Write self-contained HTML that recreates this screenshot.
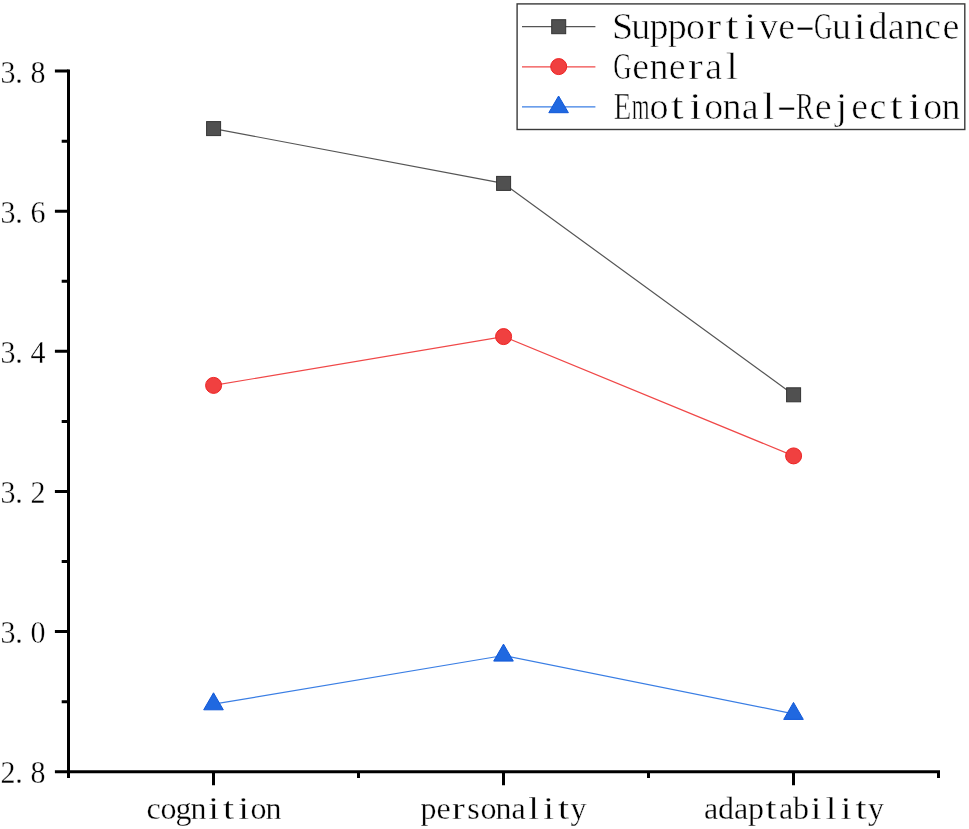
<!DOCTYPE html>
<html lang="en">
<head>
<meta charset="utf-8">
<title>Line chart</title>
<style>
html,body{margin:0;padding:0;background:#fff;}
body{width:969px;height:829px;overflow:hidden;}
svg{display:block;}
text{font-family:"Liberation Serif","Noto Serif CJK SC",serif;fill:#000;text-anchor:middle;}
.tick{font-size:30px;stroke:#fff;stroke-width:0.3px;}
.leg{font-size:38px;stroke:#fff;stroke-width:0.6px;}
.ax{stroke:#000;stroke-width:3;fill:none;stroke-linecap:butt;}
</style>
</head>
<body>
<svg width="969" height="829" viewBox="0 0 969 829">
<title>Line chart of three groups across cognition, personality and adaptability</title>
<desc>Series: Supportive-Guidance, General, Emotional-Rejection. Categories: cognition, personality, adaptability. Y axis from 2.8 to 3.8.</desc>
<rect x="0" y="0" width="969" height="829" fill="#ffffff"/>

<g id="series">
<polyline points="213.5,128.6 503.5,183.4 793.5,394.8" fill="none" stroke="#555555" stroke-width="1.2"/>
<polyline points="213.5,385.4 503.5,336.6 793.5,455.9" fill="none" stroke="#f04848" stroke-width="1.2"/>
<polyline points="213.5,704.2 503.5,655.5 793.5,713.8" fill="none" stroke="#3a7ee4" stroke-width="1.2"/>
<rect x="206.6" y="121.6" width="14" height="14" fill="#505050" stroke="#333333" stroke-width="1"/>
<rect x="496.6" y="176.4" width="14" height="14" fill="#505050" stroke="#333333" stroke-width="1"/>
<rect x="786.6" y="387.8" width="14" height="14" fill="#505050" stroke="#333333" stroke-width="1"/>
<circle cx="213.6" cy="385.4" r="8" fill="#f04040" stroke="#ee2222" stroke-width="1"/>
<circle cx="503.6" cy="336.6" r="8" fill="#f04040" stroke="#ee2222" stroke-width="1"/>
<circle cx="793.6" cy="455.9" r="8" fill="#f04040" stroke="#ee2222" stroke-width="1"/>
<polygon points="213.5,692.8000000000001 223.3,709.8000000000001 203.7,709.8000000000001" fill="#2068e0" stroke="#1058d8" stroke-width="1" stroke-linejoin="miter"/>
<polygon points="503.5,644.1 513.3,661.1 493.7,661.1" fill="#2068e0" stroke="#1058d8" stroke-width="1" stroke-linejoin="miter"/>
<polygon points="793.5,702.4 803.3,719.4 783.7,719.4" fill="#2068e0" stroke="#1058d8" stroke-width="1" stroke-linejoin="miter"/>
</g>
<g id="axes" class="ax">
<path d="M68.5,69.6 V773.2"/>
<path d="M67.0,771.7 H940.0"/>
<path d="M54.9,71.10 H68.5 M61.7,141.16 H68.5 M54.9,211.22 H68.5 M61.7,281.28 H68.5 M54.9,351.34 H68.5 M61.7,421.40 H68.5 M54.9,491.46 H68.5 M61.7,561.52 H68.5 M54.9,631.58 H68.5 M61.7,701.64 H68.5 M54.9,771.70 H68.5"/>
<path d="M68.5,771.7 V778.0 M213.5,771.7 V785.2 M358.5,771.7 V778.0 M503.5,771.7 V785.2 M648.5,771.7 V778.0 M793.5,771.7 V785.2 M938.5,771.7 V778.0"/>
</g>
<g id="ylabels" class="tick" transform="scale(1,1.05)">
<text x="8 19 38" y="78.95">3.8</text>
<text x="8 19 38" y="212.40">3.6</text>
<text x="8 19 38" y="345.85">3.4</text>
<text x="8 19 38" y="479.30">3.2</text>
<text x="8 19 38" y="612.74">3.0</text>
<text x="8 19 38" y="746.19">2.8</text>
</g>
<g id="xlabels" class="tick" style="font-size:32px">
<text x="153.5 168.5 183.5 198.5 213.5 228.5 243.5 258.5 273.5" y="819.3" aria-label="cognition">cogn<tspan textLength="10.7" lengthAdjust="spacingAndGlyphs">i</tspan><tspan textLength="11.1" lengthAdjust="spacingAndGlyphs">t</tspan><tspan textLength="10.7" lengthAdjust="spacingAndGlyphs">i</tspan>on</text>
<text x="428.5 443.5 458.5 473.5 488.5 503.5 518.5 533.5 548.5 563.5 578.5" y="819.3" aria-label="personality">pe<tspan textLength="12.8" lengthAdjust="spacingAndGlyphs">r</tspan>sona<tspan textLength="10.7" lengthAdjust="spacingAndGlyphs">l</tspan><tspan textLength="10.7" lengthAdjust="spacingAndGlyphs">i</tspan><tspan textLength="11.1" lengthAdjust="spacingAndGlyphs">t</tspan>y</text>
<text x="711 726 741 756 771 786 801 816 831 846 861 876" y="819.3" aria-label="adaptability">adap<tspan textLength="11.1" lengthAdjust="spacingAndGlyphs">t</tspan>ab<tspan textLength="10.7" lengthAdjust="spacingAndGlyphs">i</tspan><tspan textLength="10.7" lengthAdjust="spacingAndGlyphs">l</tspan><tspan textLength="10.7" lengthAdjust="spacingAndGlyphs">i</tspan><tspan textLength="11.1" lengthAdjust="spacingAndGlyphs">t</tspan>y</text>
</g>
<g id="legend">
<rect x="517.1" y="3.9" width="447.7" height="125.6" fill="#ffffff" stroke="#3a3a3a" stroke-width="1.4"/>
<line x1="522" y1="26.7" x2="595.4" y2="26.7" stroke="#555555" stroke-width="1.2"/>
<line x1="522" y1="66.8" x2="595.4" y2="66.8" stroke="#f04848" stroke-width="1.2"/>
<line x1="522" y1="106.8" x2="595.4" y2="106.8" stroke="#3a7ee4" stroke-width="1.2"/>
<rect x="551.7" y="19.7" width="14" height="14" fill="#505050" stroke="#333333" stroke-width="1"/>
<circle cx="558.7" cy="66.6" r="8" fill="#f04040" stroke="#ee2222" stroke-width="1"/>
<polygon points="558.6,96 568.4,112.7 548.8,112.7" fill="#2068e0" stroke="#1058d8" stroke-width="1"/>
<text class="leg" x="622.5 640.75 659 677.25 695.5 713.75 732 750.25 768.5 786.75 805 823.25 841.5 859.75 878 896.25 914.5 932.75 951" y="39.2" aria-label="Supportive-Guidance">Suppo<tspan textLength="15.0" lengthAdjust="spacingAndGlyphs">r</tspan><tspan textLength="13.0" lengthAdjust="spacingAndGlyphs">t</tspan><tspan textLength="12.5" lengthAdjust="spacingAndGlyphs">i</tspan>ve<tspan dy="-1.2" textLength="20.5" lengthAdjust="spacingAndGlyphs">-</tspan><tspan dy="1.2" textLength="18.4" lengthAdjust="spacingAndGlyphs">G</tspan>u<tspan textLength="12.5" lengthAdjust="spacingAndGlyphs">i</tspan>dance</text>
<text class="leg" x="622.5 640.75 659 677.25 695.5 713.75 732" y="79.3" aria-label="General"><tspan textLength="18.4" lengthAdjust="spacingAndGlyphs">G</tspan>ene<tspan textLength="15.0" lengthAdjust="spacingAndGlyphs">r</tspan>a<tspan textLength="12.5" lengthAdjust="spacingAndGlyphs">l</tspan></text>
<text class="leg" x="622.5 640.75 659 677.25 695.5 713.75 732 750.25 768.5 786.75 805 823.25 841.5 859.75 878 896.25 914.5 932.75 951" y="119.3" aria-label="Emotional-Rejection"><tspan textLength="17.6" lengthAdjust="spacingAndGlyphs">E</tspan><tspan textLength="17.8" lengthAdjust="spacingAndGlyphs">m</tspan>o<tspan textLength="13.0" lengthAdjust="spacingAndGlyphs">t</tspan><tspan textLength="12.5" lengthAdjust="spacingAndGlyphs">i</tspan>ona<tspan textLength="12.5" lengthAdjust="spacingAndGlyphs">l</tspan><tspan dy="-1.2" textLength="20.5" lengthAdjust="spacingAndGlyphs">-</tspan><tspan dy="1.2" textLength="17.8" lengthAdjust="spacingAndGlyphs">R</tspan>e<tspan textLength="12.0" lengthAdjust="spacingAndGlyphs">j</tspan>ec<tspan textLength="13.0" lengthAdjust="spacingAndGlyphs">t</tspan><tspan textLength="12.5" lengthAdjust="spacingAndGlyphs">i</tspan>on</text>
</g>
</svg>
</body>
</html>
